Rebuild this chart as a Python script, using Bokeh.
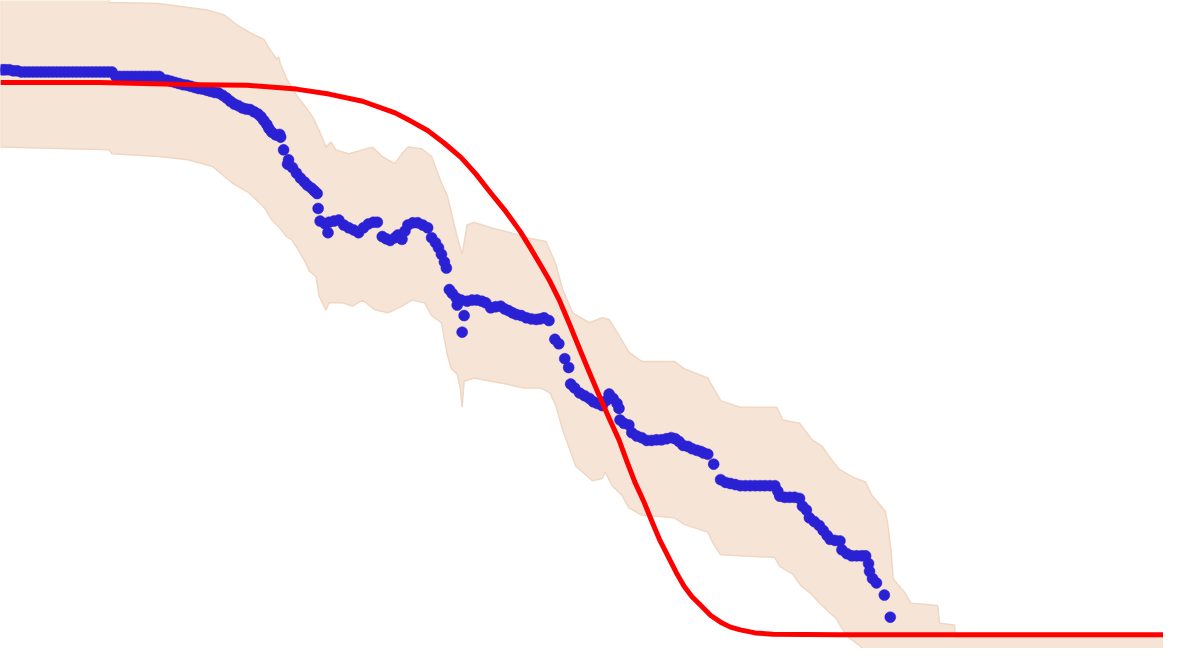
from bokeh.plotting import figure
from bokeh.models import Range1d
from bokeh.embed import file_html
from bokeh.resources import INLINE

# ---- data (x: time units, y: percent) ----
band_upper_x = [0, 11.0, 11.0, 16.0, 21.0, 22.7, 24.0, 25.3, 26.7, 27.3, 28.0, 28.2, 28.4, 29.0, 30.0,
                31.0, 31.7, 32.3, 33.0, 33.5, 34.0, 35.3, 36.7, 37.7, 38.7, 39.3, 40.0, 40.7, 41.3,
                42.7, 43.7, 44.7, 45.3, 46.0, 46.5, 46.8, 47.3, 48.0, 49.7, 51.3, 53.3, 55.3, 56.3,
                57.0, 58.0, 59.7, 61.0, 61.7, 62.7, 63.7, 65.0, 68.3, 69.3, 71.7, 73.0, 75.0, 78.7,
                79.3, 81.0, 82.3, 83.3, 84.0, 85.0, 86.7, 87.7, 88.3, 89.7, 90.0, 90.3, 90.5, 91.7,
                92.3, 95.0, 95.2, 96.7, 96.8, 117.9]
band_upper_y = [115.2, 115.2, 114.5, 114.3, 113.1, 112.2, 110.4, 109.0, 107.8, 106.0, 104.2, 104.6, 103.2,
                100.7, 97.7, 95.4, 93.6, 91.3, 88.3, 89.2, 87.8, 87.1, 87.8, 88.3, 86.6, 86.0, 85.3,
                87.1, 88.3, 88.0, 86.6, 81.8, 79.5, 74.2, 70.7, 68.9, 74.2, 74.7, 73.7, 73.0, 71.9,
                71.2, 67.1, 62.4, 58.3, 56.5, 57.4, 57.1, 54.2, 51.2, 49.5, 49.5, 48.2, 46.5, 42.4,
                41.2, 41.2, 38.9, 38.3, 35.3, 34.1, 32.3, 30.0, 28.3, 27.7, 25.3, 22.4, 19.4, 14.7,
                10.1, 7.6, 5.7, 5.3, 2.1, 1.8, -0.5, -0.5]
band_lower_x = [0, 11.0, 11.3, 16.0, 19.0, 21.5, 23.5, 25.2, 26.2, 26.8, 27.5, 28.2, 29.0, 29.5, 30.3,
                31.0, 31.3, 32.0, 32.3, 33.0, 33.3, 34.7, 35.7, 36.7, 38.0, 39.3, 40.7, 41.7, 43.0,
                43.7, 44.7, 45.0, 45.3, 45.7, 46.3, 46.6, 46.8, 47.0, 48.0, 49.7, 51.3, 53.0, 54.7,
                55.7, 56.3, 57.0, 58.3, 60.0, 61.0, 61.3, 62.0, 63.0, 63.7, 65.0, 68.3, 69.3, 71.7,
                72.3, 73.0, 78.5, 79.0, 80.3, 81.2, 82.2, 83.0, 84.0, 84.7, 85.3, 86.0, 87.0, 87.8,
                117.9]
band_lower_y = [88.3, 87.8, 87.1, 86.6, 86.0, 84.8, 81.8, 80.0, 78.3, 77.2, 75.1, 73.9, 72.1, 71.6, 69.4,
                67.1, 65.9, 64.8, 61.3, 58.8, 60.1, 60.1, 59.5, 60.6, 58.8, 58.3, 59.5, 60.6, 60.1,
                57.8, 56.5, 53.5, 50.7, 48.2, 47.2, 44.7, 41.2, 45.9, 46.5, 45.9, 45.4, 44.7, 44.7,
                43.8, 41.5, 37.1, 30.6, 27.9, 28.3, 29.5, 27.0, 25.3, 23.0, 21.7, 21.2, 20.0, 18.6,
                16.4, 14.5, 14.0, 12.4, 11.0, 8.8, 7.4, 5.8, 4.1, 3.0, 1.2, -0.5, -1.8, -3.2,
                -5.3]

obs_x = [0.2, 0.5, 0.9, 1.3, 1.7, 2.1, 2.5, 2.9, 3.3, 3.7, 4.1, 4.5, 4.9, 5.3, 5.7, 6.1, 6.5, 6.9,
         7.3, 7.7, 8.1, 8.5, 8.9, 9.3, 9.7, 10.1, 10.5, 10.9, 11.3,
         11.7, 12.1, 12.5, 12.9, 13.3, 13.7, 14.1, 14.5, 14.9, 15.3, 15.7, 16.1,
         16.5, 16.9, 17.3, 17.7, 18.1, 18.5, 18.9,
         19.3, 19.7, 20.1, 20.5, 20.9, 21.3, 21.7, 22.1, 22.5,
         22.9, 23.3, 23.7, 24.1, 24.5, 24.9, 25.3, 25.7, 26.1, 26.4, 26.7, 27.0, 27.2, 27.5,
         27.9, 28.3, 28.4,
         28.7, 29.2, 29.1, 29.6, 30.0, 30.4, 30.8, 31.1, 31.5, 31.8, 32.1, 32.2, 32.4, 32.9,
         33.3, 33.8, 34.3, 33.2, 34.8, 35.3, 35.8, 36.3, 36.8, 37.3, 37.8, 38.2, 38.7, 39.1,
         39.5, 40.0, 40.3, 40.7, 41.0, 41.3, 41.8, 42.3, 42.8, 43.3, 43.7, 44.1, 44.4, 44.7,
         45.0, 45.2, 45.5, 45.8, 46.2, 46.3, 46.7, 47.0, 46.8, 47.3, 47.8, 48.3, 48.8, 49.2,
         49.7, 50.2, 50.7, 51.1, 51.5, 51.9, 52.3, 52.8, 53.3, 53.8, 54.3, 54.7, 55.1, 55.6,
         56.2, 56.6, 57.2, 57.6, 57.8, 58.2, 58.7, 59.2, 59.7, 60.1, 60.5, 61.0, 61.4, 61.7,
         62.1, 62.5, 62.7, 62.8, 63.2, 63.7, 64.0, 64.5, 65.0, 65.5, 66.0, 66.5, 67.0, 67.5,
         68.0, 68.4, 68.8, 69.2, 69.7, 70.1, 70.6, 71.0, 71.3, 71.7, 72.3, 73.0, 73.5, 74.0,
         74.5, 75.0, 75.5, 76.0, 76.5, 77.0, 77.5, 78.0, 78.5, 78.8, 79.0, 79.5, 80.0, 80.5,
         81.0, 81.3, 81.7, 82.0, 82.5, 83.0, 83.4, 83.8, 84.1, 84.6, 85.1, 85.3, 85.8, 86.3,
         86.8, 87.3, 87.7, 88.0, 88.1, 88.4, 88.8, 89.6, 90.2]
obs_y = [102.3, 102.3, 102.3, 102.1, 102.1, 101.9, 101.9, 101.9, 101.9, 101.9, 101.9, 101.9, 101.9,
         101.9, 101.9, 101.9, 101.9, 101.9, 101.9, 101.9, 101.9, 101.9, 101.9, 101.9, 101.9, 101.9,
         101.9, 101.9, 101.9,
         101.1, 101.1, 101.1, 101.1, 101.1, 101.1, 101.1, 101.1, 101.1, 101.1, 101.1, 101.1,
         100.5, 100.4, 100.2, 100.0, 99.8, 99.6, 99.5,
         99.3, 99.1, 98.9, 98.8, 98.6, 98.4, 98.2, 98.1, 97.7,
         97.2, 96.6, 96.1, 95.8, 95.4, 95.2, 95.1, 94.7, 94.3, 93.8, 93.1, 92.4, 91.7, 91.0,
         90.5, 90.6, 90.1,
         87.8, 86.0, 85.2, 84.6, 83.6, 82.7, 82.0, 81.4, 80.9, 80.4, 79.9, 77.2, 74.9, 74.4,
         74.7, 74.9, 75.1, 72.8, 74.2, 73.7, 73.3, 72.8, 73.7, 74.4, 74.7, 74.7, 72.1, 71.7,
         71.4, 71.9, 72.4, 71.6, 73.1, 74.2, 74.6, 74.6, 74.2, 73.7, 71.9, 71.0, 70.1, 68.9,
         67.5, 66.4, 62.5, 61.8, 61.0, 59.7, 60.6, 57.8, 54.8, 60.4, 60.6, 60.6, 60.4, 60.1,
         59.2, 59.4, 59.5, 59.0, 58.7, 58.3, 58.0, 57.8, 57.4, 57.2, 57.1, 57.2, 57.4, 56.9,
         53.5, 52.7, 50.0, 48.4, 45.4, 44.7, 43.8, 43.3, 42.8, 42.2, 41.9, 41.5, 42.4, 43.6,
         42.8, 41.9, 41.0, 38.9, 38.3, 38.0, 36.6, 36.0, 35.7, 35.2, 35.2, 35.3, 35.3, 35.5,
         35.7, 35.5, 35.0, 34.3, 34.1, 33.7, 33.4, 33.2, 32.9, 32.7, 30.9, 28.1, 27.6, 27.4,
         27.2, 27.0, 27.0, 27.0, 27.0, 27.0, 27.0, 27.0, 27.0, 26.0, 25.1, 24.9, 24.9, 24.9,
         24.7, 23.3, 22.6, 21.2, 20.5, 19.8, 18.9, 18.0, 17.3, 17.1, 17.0, 15.4, 14.7, 14.3,
         14.3, 14.3, 14.3, 12.9, 11.5, 10.2, 9.4, 7.2, 3.2]

fit_x = [0, 10, 20, 25, 30, 33.3, 36.7, 40, 41.5, 43.3, 45.0, 46.7, 48.2, 49.7, 51.2, 52.7, 53.7,
         54.7, 55.7, 56.7, 57.7, 58.7, 59.7, 60.7, 61.7, 62.7, 63.5, 64.3, 65.2, 66.0, 66.8, 67.7,
         68.5, 69.3, 70.1, 71.0, 72.0, 73.0, 74.0, 75.0, 76.5, 78.3, 85, 117.9]
fit_y = [100, 100, 99.6, 99.5, 98.8, 97.9, 96.6, 94.5, 93.1, 91.3, 89.0, 86.4, 83.4, 80.0, 76.7,
         73.0, 70.1, 67.1, 64.0, 60.4, 56.2, 51.8, 47.5, 43.3, 39.2, 35.3, 31.4, 27.7, 24.2, 20.7,
         17.3, 14.1, 11.3, 8.8, 6.9, 5.3, 3.5, 2.3, 1.4, 0.9, 0.35, 0.1, 0, 0]

# ---- figure ----
p = figure(width=1163, height=648, output_backend="svg", toolbar_location=None,
           x_range=Range1d(0, 117.9), y_range=Range1d(-2.47, 114.84),
           x_axis_type=None, y_axis_type=None, min_border=0)
p.outline_line_color = None
p.grid.visible = False
p.background_fill_color = "white"
p.border_fill_color = "white"

poly_x = band_upper_x + band_lower_x[::-1]
poly_y = band_upper_y + band_lower_y[::-1]
p.patch(poly_x, poly_y, fill_color="#f6e5d7", line_color="#efd7c3", line_width=1.5)

p.scatter(obs_x, obs_y, marker="circle", size=11, fill_color="#2a20d4", line_color="#2a20d4",
          line_width=0.5)

p.line(fit_x, fit_y, line_color="#ff0000", line_width=5, line_join="round")

open("out.html", "w").write(file_html(p, INLINE))
